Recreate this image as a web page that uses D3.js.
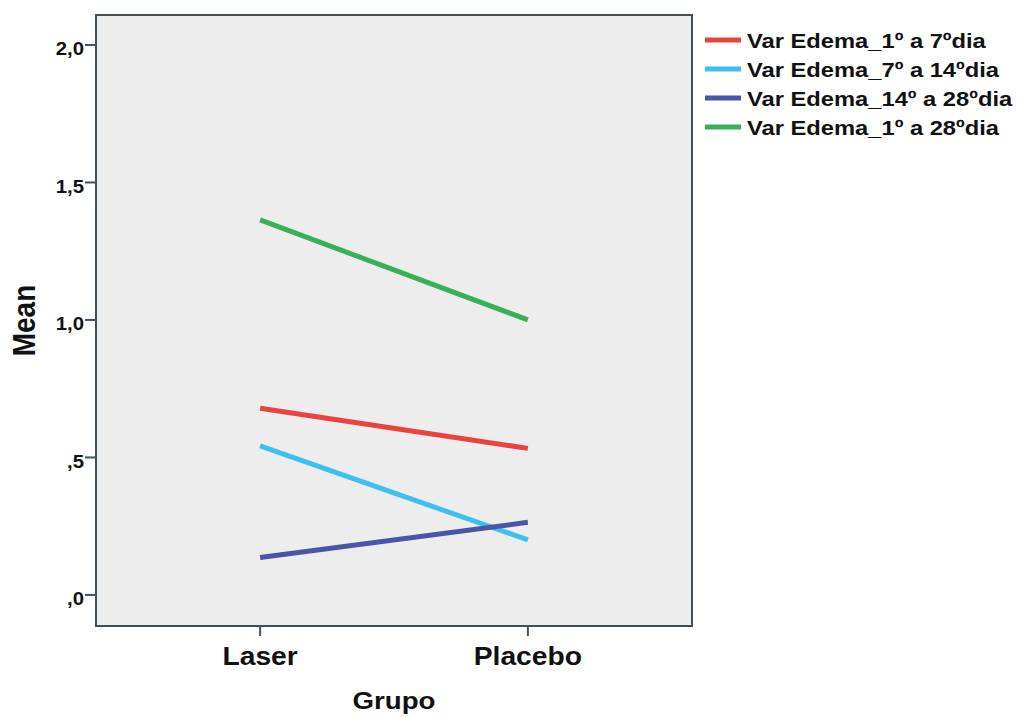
<!DOCTYPE html>
<html>
<head>
<meta charset="utf-8">
<script src="https://cdn.jsdelivr.net/npm/d3@7"></script>
<style>
  html, body { margin: 0; padding: 0; background: #ffffff; }
  svg { display: block; }
  text { font-family: "Liberation Sans", Arial, sans-serif; font-weight: bold; fill: #111; }
</style>
</head>
<body>
<svg id="chart" width="1018" height="717"></svg>
<script>
// ---- data ----
const groups = ["Laser", "Placebo"];
const seriesNames = [
  "Var Edema_1º a 7ºdia",
  "Var Edema_7º a 14ºdia",
  "Var Edema_14º a 28ºdia",
  "Var Edema_1º a 28ºdia"
];
const laserMeans   = [0.679, 0.542, 0.136, 1.364];
const placeboMeans = [0.533, 0.200, 0.264, 1.000];
const seriesColors = ["#e8433f", "#3ec0ee", "#4a55a8", "#3aaf5a"];
const yTicks = [0, 0.5, 1.0, 1.5, 2.0];
const yTickLabels = [",0", ",5", "1,0", "1,5", "2,0"];

// ---- layout ----
const svg = d3.select("#chart");
const plot = { left: 96, right: 692, top: 15, bottom: 626 };
const stretch = 1.13;

const x = d3.scalePoint().domain(groups).range([plot.left, plot.right]).padding(0.613);
const y = d3.scaleLinear().domain([-0.113, 2.109]).range([plot.bottom, plot.top]);

svg.append("rect")
  .attr("x", plot.left).attr("y", plot.top)
  .attr("width", plot.right - plot.left).attr("height", plot.bottom - plot.top)
  .attr("fill", "#eeeded");

// lines
const series = seriesNames.map((name, i) => ({
  name, color: seriesColors[i],
  values: [ {g: groups[0], v: laserMeans[i]}, {g: groups[1], v: placeboMeans[i]} ]
}));
const line = d3.line().x(d => x(d.g)).y(d => y(d.v));
svg.append("g").selectAll("path").data(series).join("path")
  .attr("d", d => line(d.values))
  .attr("fill", "none")
  .attr("stroke", d => d.color)
  .attr("stroke-width", 5)
  .attr("stroke-linecap", "butt");

// frame
svg.append("rect")
  .attr("x", plot.left).attr("y", plot.top)
  .attr("width", plot.right - plot.left).attr("height", plot.bottom - plot.top)
  .attr("fill", "none").attr("stroke", "#3f525c").attr("stroke-width", 2);

// stretched text helper
function sText(g, tx, ty, str, size, anchor, rot) {
  const t = g.append("g").attr("transform",
    `translate(${tx},${ty}) scale(${stretch},1)` + (rot ? ` rotate(${rot})` : ""));
  t.append("text").attr("text-anchor", anchor).attr("font-size", size).text(str);
}

// y axis
const yAxisG = svg.append("g");
yTicks.forEach((t, i) => {
  yAxisG.append("line")
    .attr("x1", plot.left - 11).attr("x2", plot.left)
    .attr("y1", y(t)).attr("y2", y(t))
    .attr("stroke", "#3f525c").attr("stroke-width", 2);
  sText(yAxisG, plot.left - 12, y(t) + 10.5, yTickLabels[i], 18, "end");
});

// x axis
const xAxisG = svg.append("g");
groups.forEach(g => {
  xAxisG.append("line")
    .attr("x1", x(g)).attr("x2", x(g))
    .attr("y1", plot.bottom).attr("y2", plot.bottom + 10)
    .attr("stroke", "#3f525c").attr("stroke-width", 2);
  sText(xAxisG, x(g), 665, g, 25, "middle");
});

// axis titles
sText(svg, (plot.left + plot.right) / 2, 709, "Grupo", 24.5, "middle");
sText(svg, 35, (plot.top + plot.bottom) / 2, "Mean", 28, "middle", -90);

// legend
const legY = d3.scalePoint().domain(seriesNames).range([40, 127]);
const leg = svg.append("g");
series.forEach(s => {
  leg.append("line")
    .attr("x1", 705).attr("x2", 741)
    .attr("y1", legY(s.name)).attr("y2", legY(s.name))
    .attr("stroke", s.color).attr("stroke-width", 5);
  sText(leg, 747, legY(s.name) + 7.5, s.name, 21, "start");
});
</script>
</body>
</html>
